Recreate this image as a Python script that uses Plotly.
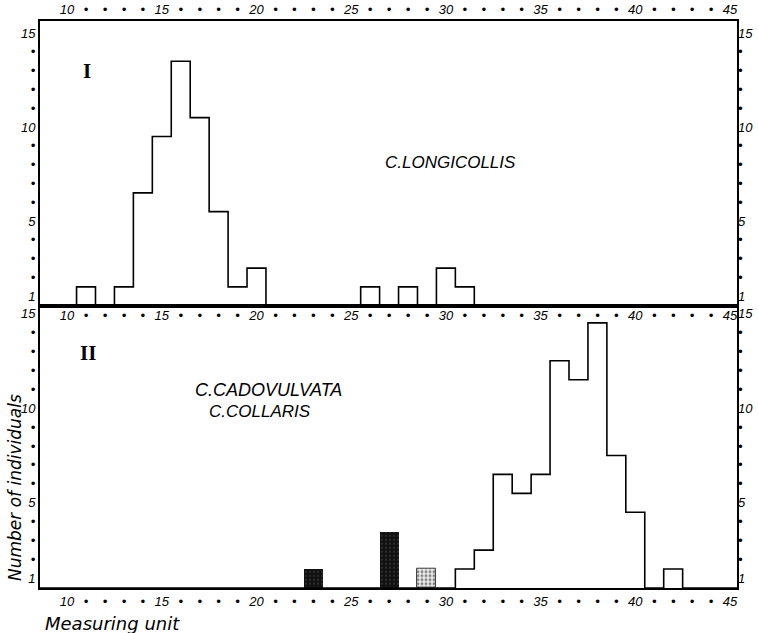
import plotly.graph_objects as go

# ---- data ----
classes_I = [11, 13, 14, 15, 16, 17, 18, 19, 20, 26, 28, 30, 31]
counts_I = [1, 1, 6, 9, 13, 10, 5, 1, 2, 1, 1, 2, 1]

classes_II = [31, 32, 33, 34, 35, 36, 37, 38, 39, 40, 42]
counts_II = [1, 2, 6, 5, 6, 12, 11, 14, 7, 4, 1]

dark_classes = [23, 27]
dark_counts = [1, 3]
stipple_classes = [29]
stipple_counts = [1]

DOT = "•"
x_tick_values = list(range(10, 46))
x_tick_labels = [str(v) if v % 5 == 0 else DOT for v in x_tick_values]
y_tick_numbers = list(range(1, 16))
y_tick_labels = [str(v) if v in (1, 5, 10, 15) else DOT for v in y_tick_numbers]


def steps(classes, counts, lo=9, hi=45):
    d = dict(zip(classes, counts))
    ks = list(range(lo, hi + 1))
    xs = [k - 0.5 for k in ks] + [hi + 0.5]
    ys = [d.get(k, 0) for k in ks] + [d.get(hi, 0)]
    return xs, ys


X_RANGE = [8.57, 45.37]
Y1_RANGE = [0, 15.14]
Y2_RANGE = [0, 14.91]
SPLIT = 0.4979

tickfont = dict(family="Liberation Sans", size=13, style="italic", color="black")
y_tickvals = [n - 0.5 for n in y_tick_numbers]

fig = go.Figure()

xs1, ys1 = steps(classes_I, counts_I)
fig.add_trace(go.Scatter(x=xs1, y=ys1, mode="lines", line=dict(shape="hv", color="black", width=1.6),
                         xaxis="x", yaxis="y", showlegend=False, hoverinfo="skip"))
xs2, ys2 = steps(classes_II, counts_II)
fig.add_trace(go.Scatter(x=xs2, y=ys2, mode="lines", line=dict(shape="hv", color="black", width=1.6),
                         xaxis="x2", yaxis="y2", showlegend=False, hoverinfo="skip"))

fig.add_trace(go.Bar(x=dark_classes, y=dark_counts, width=1, xaxis="x2", yaxis="y2", showlegend=False,
                     marker=dict(color="#111111", line=dict(width=0),
                                 pattern=dict(shape=".", fgcolor="#777777", bgcolor="#111111",
                                              size=4, solidity=0.15))))
fig.add_trace(go.Bar(x=stipple_classes, y=stipple_counts, width=1, xaxis="x2", yaxis="y2", showlegend=False,
                     marker=dict(color="#cccccc", line=dict(width=1, color="#444444"),
                                 pattern=dict(shape=".", fgcolor="#111111", bgcolor="#eeeeee",
                                              size=4, solidity=0.45))))

# invisible traces so the mirror-label axes are drawn
fig.add_trace(go.Scatter(x=[None], y=[None], xaxis="x3", yaxis="y3", showlegend=False, hoverinfo="skip"))
fig.add_trace(go.Scatter(x=[None], y=[None], xaxis="x2", yaxis="y4", showlegend=False, hoverinfo="skip"))

common_x = dict(range=X_RANGE, tickmode="array", tickvals=x_tick_values, ticktext=x_tick_labels,
                showgrid=False, zeroline=False, ticks="", tickfont=tickfont, fixedrange=True,
                automargin=False)
common_y = dict(tickmode="array", tickvals=y_tickvals, ticktext=y_tick_labels,
                showgrid=False, zeroline=False, ticks="", tickfont=tickfont, fixedrange=True,
                automargin=False)

fig.update_layout(
    width=758, height=633,
    margin=dict(l=40, r=21, t=21, b=45, autoexpand=False),
    paper_bgcolor="white", plot_bgcolor="white",
    barmode="overlay", bargap=0,
    xaxis=dict(domain=[0, 1], anchor="y", side="top", showline=True, mirror=True,
               linecolor="black", linewidth=2, **common_x),
    xaxis3=dict(overlaying="x", anchor="y", side="bottom", showline=False, **common_x),
    xaxis2=dict(domain=[0, 1], anchor="y2", side="bottom", showline=True, mirror=True,
                linecolor="black", linewidth=2, **common_x),
    yaxis=dict(domain=[SPLIT, 1], anchor="x", range=Y1_RANGE, side="left", showline=True, mirror=True,
               linecolor="black", linewidth=2, **common_y),
    yaxis3=dict(overlaying="y", anchor="x", range=Y1_RANGE, side="right", showline=False, **common_y),
    yaxis2=dict(domain=[0, SPLIT], anchor="x2", range=Y2_RANGE, side="left", showline=True, mirror=True,
                linecolor="black", linewidth=2, **common_y),
    yaxis4=dict(overlaying="y2", anchor="x2", range=Y2_RANGE, side="right", showline=False, **common_y),
)

serif_bold = dict(family="Liberation Serif", size=21, color="black", weight="bold")
species_font = dict(family="Liberation Sans", size=17, style="italic", color="black")

fig.add_annotation(text="I", x=11.06, y=12.5, xref="x", yref="y", showarrow=False, font=serif_bold)
fig.add_annotation(text="II", x=11.1, y=12.4, xref="x2", yref="y2", showarrow=False, font=serif_bold)
fig.add_annotation(text="C.LONGICOLLIS", x=26.7, y=7.6, xref="x", yref="y", xanchor="left",
                   showarrow=False, font=species_font)
fig.add_annotation(text="C.CADOVULVATA", x=16.65, y=10.48, xref="x2", yref="y2", xanchor="left",
                   showarrow=False, font=dict(family="Liberation Sans", size=18, style="italic",
                                              color="black"))
fig.add_annotation(text="C.COLLARIS", x=17.39, y=9.32, xref="x2", yref="y2", xanchor="left",
                   showarrow=False, font=species_font)
fig.add_annotation(text="Number of individuals", x=-0.036, y=0.178, xref="paper", yref="paper",
                   xanchor="center", yanchor="middle", textangle=-90, showarrow=False,
                   font=dict(family="DejaVu Sans", size=17, style="italic", color="black"))
fig.add_annotation(text="Measuring unit", x=0.004, y=-0.062, xref="paper", yref="paper",
                   xanchor="left", yanchor="middle", showarrow=False,
                   font=dict(family="DejaVu Sans", size=18, style="italic", color="black"))

fig.write_html("out.html")
